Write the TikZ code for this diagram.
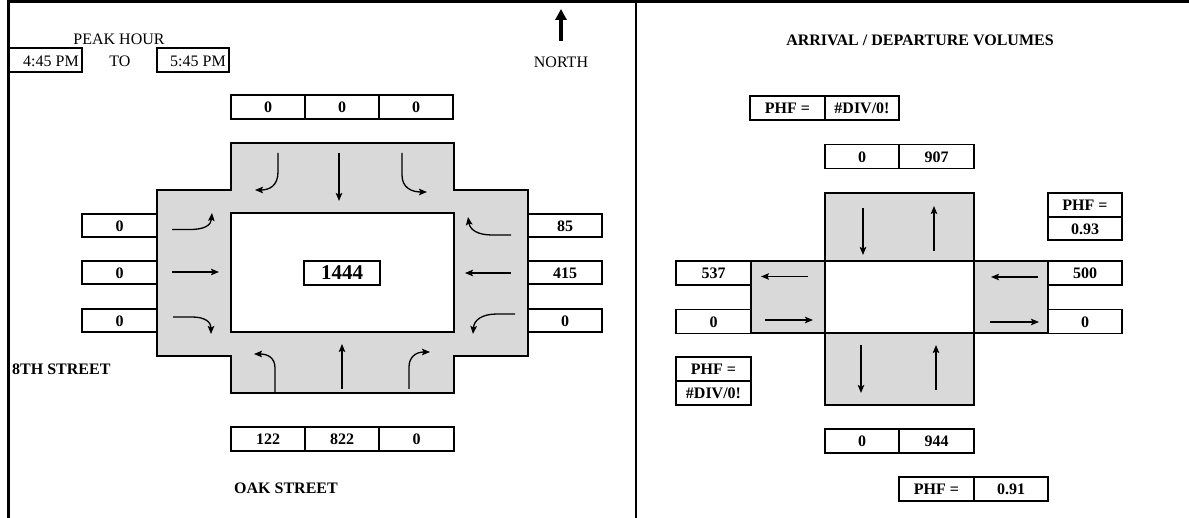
\documentclass[tikz,border=0pt]{standalone}
\usepackage{fontspec}
\setmainfont{Liberation Serif}
\usetikzlibrary{arrows.meta}
\definecolor{road}{RGB}{217,217,217}
\tikzset{
  cell/.style={draw, line width=1.8pt, inner sep=0pt, minimum height=24pt, minimum width=74pt,
               text height=11.5pt, text depth=0pt, font=\fontsize{16}{18}\selectfont\bfseries},
  lbl/.style={inner sep=0pt, font=\fontsize{16}{18}\selectfont},
  blbl/.style={inner sep=0pt, font=\fontsize{16}{18}\selectfont\bfseries},
  roadfill/.style={fill=road, draw, line width=1.8pt},
  inner/.style={fill=white, draw, line width=1.8pt},
  mv/.style={line width=1.3pt, -{Stealth[length=8pt,width=6.5pt,inset=1.5pt]}},
  frame/.style={line width=3pt}
}
\begin{document}
\begin{tikzpicture}[x=1pt,y=-1pt]
\useasboundingbox (0,0) rectangle (1189,518);
% frame
\draw[frame] (8,1.5) -- (1189,1.5);
\draw[frame] (8,0) -- (8,518);
\draw[line width=2.2pt] (636,1.5) -- (636,518);

% ---------------- left panel ----------------
\node[lbl] (peak) at (119,39) {PEAK HOUR};
\node[draw, line width=1.8pt, minimum width=73pt, minimum height=24pt, inner sep=0pt] (from) at (45.5,60) {};
\node[lbl, anchor=east] (fromt) at (79,61) {4:45 PM};
\node[lbl] (to) at (120,61) {TO};
\node[draw, line width=1.8pt, minimum width=72pt, minimum height=24pt, inner sep=0pt] (until) at (193,60) {};
\node[lbl, anchor=east] (untilt) at (226,61) {5:45 PM};
\node[lbl] (north) at (561,62) {NORTH};
\coordinate (nb) at (561,41);
\coordinate (nt) at (561,9);
\draw[line width=3.2pt, -{Triangle[length=11pt,width=11pt]}] (nb) -- (nt);

% cross
\draw[roadfill] (231,143) -- (454,143) -- (454,190) -- (528,190) -- (528,356) -- (454,356)
  -- (454,393) -- (231,393) -- (231,356) -- (157,356) -- (157,190) -- (231,190) -- cycle;
\draw[inner] (231,213) rectangle (454,332);

% top arm movements
\draw[mv] (278,153) -- (278,172) .. controls (278,186) and (269,190) .. (255,190);
\draw[mv] (339,153) -- (339,201);
\draw[mv] (402,153) -- (402,175) .. controls (402,188) and (412,192) .. (427,192);
% left arm
\draw[mv] (172,229.5) -- (190,229.5) .. controls (205,229.5) and (211,225) .. (212,213);
\draw[mv] (172,272) -- (219,272);
\draw[mv] (173,317) -- (192,317) .. controls (205,317) and (211,322) .. (211,334);
% right arm
\draw[mv] (511,235) -- (492,235) .. controls (478,235) and (470,230) .. (468,217);
\draw[mv] (511,273) -- (465,273);
\draw[mv] (515,314) -- (497,314) .. controls (482,314) and (474,320) .. (473,334);
% bottom arm
\draw[mv] (275,392) -- (275,368) .. controls (275,358) and (268,354) .. (254,354);
\draw[mv] (342,389) -- (342,344);
\draw[mv] (409,389) -- (409,367) .. controls (409,357) and (416,352) .. (430,352);

% volume boxes
\node[cell] (t1) at (268,107) {0};
\node[cell] (t2) at (342,107) {0};
\node[cell] (t3) at (416,107) {0};
\node[cell] (b1) at (268,439) {122};
\node[cell] (b2) at (342,439) {822};
\node[cell, minimum width=75pt] (b3) at (416.5,439) {0};
\node[cell, minimum width=75pt, minimum height=23pt] (l1) at (119.5,225.5) {0};
\node[cell, minimum width=75pt, minimum height=23pt] (l2) at (119.5,272.5) {0};
\node[cell, minimum width=75pt, minimum height=23pt] (l3) at (119.5,320.5) {0};
\node[cell, minimum height=23pt] (r1) at (565,225.5) {85};
\node[cell, minimum height=23pt] (r2) at (565,272.5) {415};
\node[cell, minimum height=23pt] (r3) at (565,320.5) {0};
\node[cell, minimum width=76pt, text height=14pt, font=\fontsize{21}{24}\selectfont\bfseries] (tot) at (342,273) {1444};

\node[blbl, anchor=west] (st8) at (12,369) {8TH STREET};
\node[blbl, anchor=west] (oak) at (234,488) {OAK STREET};

% ---------------- right panel ----------------
\node[blbl] (title) at (920,40) {ARRIVAL / DEPARTURE VOLUMES};

\draw[roadfill] (825,193) rectangle (974,261);
\draw[roadfill] (825,333) rectangle (974,405);
\draw[roadfill] (751,261) rectangle (825,333);
\draw[roadfill] (974,261) rectangle (1048,333);
\draw[inner] (825,261) rectangle (974,333);

\draw[mv] (863,208) -- (863,255);
\draw[mv] (934,251) -- (934,206);
\draw[mv] (861,345) -- (861,393);
\draw[mv] (936,390) -- (936,345);
\draw[mv] (808,276.5) -- (761,276.5);
\draw[mv] (765,320) -- (813,320);
\draw[mv] (1038,277) -- (991,277);
\draw[mv] (990,322) -- (1039,322);

\node[cell, minimum width=75pt] (pa1) at (787.5,108) {PHF =};
\node[cell] (pa2) at (862,108) {\#DIV/0!};
\node[cell] (n1) at (862,156.5) {0};
\node[cell, minimum width=75pt] (n2) at (936.5,156.5) {907};
\node[cell, minimum height=23.5pt] (pe1) at (1085,205) {PHF =};
\node[cell, minimum height=23.5pt] (pe2) at (1085,228.5) {0.93};
\node[cell, minimum width=75pt] (w1) at (713.5,273) {537};
\node[cell, minimum width=75pt] (w2) at (713.5,321.5) {0};
\node[cell] (e1) at (1085,273) {500};
\node[cell] (e2) at (1085,321.5) {0};
\node[cell, minimum width=75pt] (pw1) at (713.5,369) {PHF =};
\node[cell, minimum width=75pt] (pw2) at (713.5,393) {\#DIV/0!};
\node[cell] (m1) at (862,441) {0};
\node[cell, minimum width=75pt] (m2) at (936.5,441) {944};
\node[cell, minimum width=75pt] (ps1) at (936.5,489) {PHF =};
\node[cell] (ps2) at (1011,489) {0.91};
\end{tikzpicture}
\end{document}
